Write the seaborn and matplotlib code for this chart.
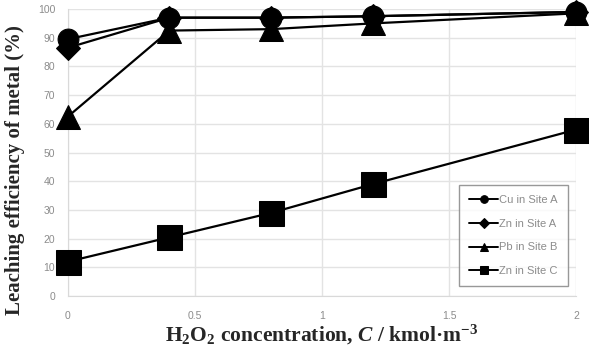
import pandas as pd
import matplotlib
matplotlib.use('Agg')
import matplotlib.pyplot as plt
import seaborn as sns

# concentration values (x) and leaching efficiency per series
conc = [0, 0.4, 0.8, 1.2, 2.0]
cu_site_a = [89.5, 97.0, 97.0, 97.5, 99.0]
zn_site_a = [86.5, 97.0, 97.0, 97.5, 99.0]
pb_site_b = [62.5, 92.5, 93.0, 95.0, 98.5]
zn_site_c = [12.0, 20.5, 29.0, 39.0, 58.0]

series_names = ['Cu in Site A', 'Zn in Site A', 'Pb in Site B', 'Zn in Site C']
series_values = [cu_site_a, zn_site_a, pb_site_b, zn_site_c]
x_ticks = [0, 0.5, 1, 1.5, 2]
x_tick_labels = ['0', '0.5', '1', '1.5', '2']
y_ticks = list(range(0, 101, 10))

df = pd.concat([
    pd.DataFrame({'conc': conc, 'eff': vals, 'metal': name})
    for name, vals in zip(series_names, series_values)
])

sns.set_style('white')
plt.rcParams['font.family'] = ['Liberation Sans', 'DejaVu Sans']
plt.rcParams['mathtext.fontset'] = 'custom'
plt.rcParams['mathtext.rm'] = 'Liberation Serif:bold'
plt.rcParams['mathtext.it'] = 'Liberation Serif:italic:bold'
plt.rcParams['mathtext.bf'] = 'Liberation Serif:bold'

fig = plt.figure(figsize=(5.89, 3.48), dpi=100)
ax = fig.add_axes([0.115, 0.149, 0.863, 0.825])

markers = {'Cu in Site A': 'o', 'Zn in Site A': 'D', 'Pb in Site B': '^', 'Zn in Site C': 's'}
sizes = {'Cu in Site A': 15, 'Zn in Site A': 12, 'Pb in Site B': 17, 'Zn in Site C': 18}

for name in series_names:
    sub = df[df['metal'] == name]
    sns.lineplot(data=sub, x='conc', y='eff', ax=ax, color='black', lw=1.6,
                 marker=markers[name], markersize=sizes[name],
                 markeredgecolor='black', label=name, zorder=3, clip_on=False)

ax.set_xlim(0, 2)
ax.set_ylim(0, 100)
ax.set_xticks(x_ticks)
ax.set_xticklabels(x_tick_labels)
ax.set_yticks(y_ticks)
ax.tick_params(axis='both', labelsize=7.5, colors='#8c8c8c', length=0)
ax.tick_params(axis='x', pad=11)
ax.tick_params(axis='y', pad=9)
ax.grid(True, color='#e3e3e3', lw=1)
for side in ['top', 'right']:
    ax.spines[side].set_visible(False)
for side in ['left', 'bottom']:
    ax.spines[side].set_color('#d9d9d9')

ax.set_xlabel(r'H$_2$O$_2$ concentration, $C$ / kmol·m$^{-3}$',
              family='Liberation Serif', fontweight='bold', fontsize=15.5, labelpad=1)
ax.set_ylabel('Leaching efficiency of metal (%)',
              family='Liberation Serif', fontweight='bold', fontsize=15)
ax.yaxis.set_label_coords(-0.085, 0.44)

leg = ax.legend(loc='lower right', bbox_to_anchor=(0.995, 0.015), fontsize=8,
                frameon=True, fancybox=False, edgecolor='#7f7f7f',
                labelcolor='#8c8c8c', handlelength=2.6, handletextpad=0.1,
                labelspacing=1.25, borderpad=0.9)
for h in leg.legend_handles:
    h.set_markersize(5.5)
    h.set_linewidth(1.4)

fig.savefig('out.png', dpi=100)
